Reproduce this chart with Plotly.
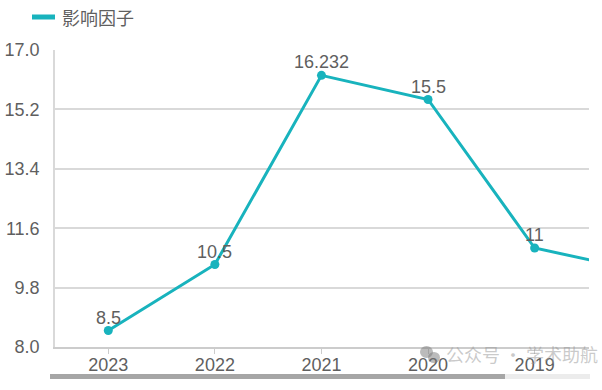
import plotly.graph_objects as go

# ---- data ----
years = ["2023", "2022", "2021", "2020", "2019", "2018"]
impact_factor = [8.5, 10.5, 16.232, 15.5, 11, 10.3]
series_name = "影响因子"
y_ticks = [8.0, 9.8, 11.6, 13.4, 15.2, 17.0]

W, H = 602, 390
L, R, T, B = 55, 589, 50, 347  # plot area in pixels
TEAL = "#18b3bd"
TXT = "#5f5f5f"
FONT = "Liberation Sans, Arial, sans-serif"
CJK = "Noto Sans CJK SC, sans-serif"


def px(x):
    return (x - L) / (R - L)


def py(y):
    return (B - y) / (B - T)


fig = go.Figure()
fig.add_trace(go.Scatter(
    x=years, y=impact_factor, name=series_name,
    mode="lines+markers",
    line=dict(color=TEAL, width=3),
    marker=dict(color=TEAL, size=9),
    cliponaxis=True,
    showlegend=False,
))

shapes = [
    # legend symbol
    dict(type="line", xref="paper", yref="paper", x0=px(32), x1=px(55),
         y0=py(17), y1=py(17), line=dict(color=TEAL, width=5)),
    # data-zoom scrollbar
    dict(type="rect", xref="paper", yref="paper", x0=px(50), x1=px(505),
         y0=py(379), y1=py(374), line=dict(width=0), fillcolor="#a6a6a6"),
    dict(type="rect", xref="paper", yref="paper", x0=px(505), x1=px(590),
         y0=py(379), y1=py(374), line=dict(width=0), fillcolor="#ececec"),
    # watermark icon
    dict(type="circle", xref="paper", yref="paper", x0=px(420), x1=px(433),
         y0=py(358), y1=py(346), line=dict(width=0), fillcolor="rgba(120,120,120,0.5)"),
    dict(type="circle", xref="paper", yref="paper", x0=px(428), x1=px(440),
         y0=py(363), y1=py(352), line=dict(width=0), fillcolor="rgba(120,120,120,0.5)"),
]

annotations = [
    dict(text=series_name, xref="paper", yref="paper", x=px(60), y=py(17),
         xanchor="left", yanchor="middle", showarrow=False,
         font=dict(family=CJK, size=18, color=TXT)),
    dict(text="公众号 · 学术助航", xref="paper", yref="paper", x=px(444), y=py(354),
         xanchor="left", yanchor="middle", showarrow=False,
         font=dict(family=CJK, size=18, color="rgba(150,150,150,0.5)")),
]
# data labels, placed through the axes (category index on x)
for i, v in enumerate(impact_factor):
    annotations.append(dict(
        text=f"{v:g}", x=i, y=v, xref="x", yref="y",
        yanchor="middle", xanchor="center", yshift=13, showarrow=False,
        font=dict(family=FONT, size=18, color=TXT),
    ))

fig.update_layout(
    width=W, height=H,
    margin=dict(l=L, r=W - R, t=T, b=H - B, autoexpand=False),
    paper_bgcolor="white", plot_bgcolor="white",
    shapes=shapes, annotations=annotations,
    font=dict(family=FONT, size=18, color=TXT),
    showlegend=False,
)
fig.update_xaxes(
    type="category", categoryorder="array", categoryarray=years,
    range=[-0.5, 4.51],
    showgrid=False, showline=True, linecolor="#cccccc", linewidth=1.5,
    ticks="outside", ticklen=5, tickcolor="#cccccc",
    ticklabelstandoff=-4,
    tickfont=dict(family=FONT, size=18, color=TXT),
    automargin=False, fixedrange=True,
)
fig.update_yaxes(
    range=[8, 17], tickvals=y_ticks, ticktext=[f"{v:.1f}" for v in y_ticks],
    showgrid=True, gridcolor="#d9d9d9", gridwidth=1.5,
    showline=True, linecolor="#d9d9d9", linewidth=1.5,
    zeroline=False, ticks="", ticklabelstandoff=10,
    tickfont=dict(family=FONT, size=18, color=TXT),
    automargin=False, fixedrange=True,
)

fig.write_html("out.html", config={"displayModeBar": False},
               post_script="document.body.style.margin='0';")
